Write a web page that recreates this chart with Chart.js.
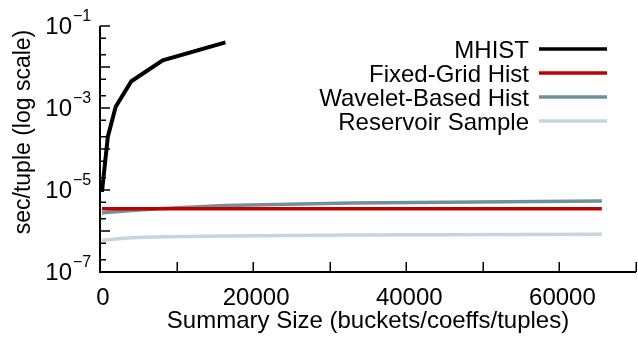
<!DOCTYPE html>
<html><head><meta charset="utf-8">
<script src="https://cdn.jsdelivr.net/npm/chart.js@4"></script>
<style>html,body{margin:0;padding:0;background:#fff}#wrap{width:638px;height:338px}</style>
</head><body><div id="wrap"><canvas id="c" width="638" height="338"></canvas></div>
<script>
// ---- data ----
const seriesNames = ['MHIST', 'Fixed-Grid Hist', 'Wavelet-Based Hist', 'Reservoir Sample'];
const mhistSizes = [256, 1024, 2048, 4096, 8192, 16384];
const mhistSecPerTuple = [9e-6, 2.0e-4, 1.07e-3, 4.5e-3, 1.45e-2, 4.0e-2];
const summarySizes = [256, 1024, 2048, 4096, 8192, 16384, 32768, 65536];
const fixedGridSecPerTuple = [3.5e-6, 3.5e-6, 3.5e-6, 3.5e-6, 3.5e-6, 3.5e-6, 3.5e-6, 3.5e-6];
const waveletSecPerTuple = [2.75e-6, 2.85e-6, 2.95e-6, 3.15e-6, 3.55e-6, 4.2e-6, 4.8e-6, 5.4e-6];
const reservoirSecPerTuple = [5.9e-7, 6.1e-7, 6.4e-7, 6.8e-7, 7.2e-7, 7.6e-7, 8.0e-7, 8.3e-7];
const xTickValues = [0, 10000, 20000, 30000, 40000, 50000, 60000, 70000];
const xTickLabels = ['0', '', '20000', '', '40000', '', '60000', ''];
const yDecadeExponents = [-7, -6, -5, -4, -3, -2, -1];
const yLabelExponents = [-7, -5, -3, -1];
const yMinorMantissas = [2, 5];
const xTitle = 'Summary Size (buckets/coeffs/tuples)';
const yTitle = 'sec/tuple (log scale)';

const FONT = "'Liberation Sans', Arial, Helvetica, sans-serif";
const colors = ['#000000', '#c00000', '#71909a', '#c4d5de'];
const widths = [4, 3.5, 3.5, 3.5];

const toPts = (xs, ys) => xs.map((x, i) => ({x: x, y: ys[i]}));
const seriesData = [
  toPts(mhistSizes, mhistSecPerTuple),
  toPts(summarySizes, fixedGridSecPerTuple),
  toPts(summarySizes, waveletSecPerTuple),
  toPts(summarySizes, reservoirSecPerTuple)
];

const yTickValues = [];
yDecadeExponents.forEach(e => {
  yTickValues.push({value: Number('1e' + e), major: true});
  if (e < -1) yMinorMantissas.forEach(m => yTickValues.push({value: Number(m + 'e' + e), major: false}));
});

const decorations = {
  id: 'decorations',
  beforeDatasetsDraw(chart) {
    const ctx = chart.ctx, a = chart.chartArea;
    const xs = chart.scales.x, ys = chart.scales.y;
    ctx.save();
    ctx.strokeStyle = '#000';
    ctx.lineWidth = 2;
    ctx.beginPath();
    ctx.moveTo(a.left, a.top); ctx.lineTo(a.left, a.bottom); ctx.lineTo(a.right, a.bottom);
    ctx.stroke();
    ctx.lineWidth = 1.5;
    ctx.beginPath();
    xTickValues.forEach(v => {
      const px = Math.round(xs.getPixelForValue(v)) + 0.25;
      ctx.moveTo(px, a.bottom); ctx.lineTo(px, a.bottom - 10);
    });
    yTickValues.forEach(t => {
      const py = ys.getPixelForValue(t.value);
      ctx.moveTo(a.left, py); ctx.lineTo(a.left + (t.major ? 10 : 6), py);
    });
    ctx.stroke();
    ctx.restore();
  },
  afterDraw(chart) {
    const ctx = chart.ctx;
    const ys = chart.scales.y;
    ctx.save();
    ctx.fillStyle = '#000';
    // y tick labels 10^e
    yLabelExponents.forEach(e => {
      const py = ys.getPixelForValue(Number('1e' + e));
      ctx.font = '24px ' + FONT;
      ctx.textAlign = 'right'; ctx.textBaseline = 'alphabetic';
      ctx.fillText('10', 72, py + 8);
      ctx.font = '16px ' + FONT;
      ctx.textAlign = 'left';
      ctx.fillText('\u2212' + Math.abs(e), 73, py - 5);
    });
    // y title
    ctx.save();
    ctx.translate(30, 132);
    ctx.rotate(-Math.PI / 2);
    ctx.font = '23px ' + FONT;
    ctx.textAlign = 'center'; ctx.textBaseline = 'alphabetic';
    ctx.fillText(yTitle, 0, 0);
    ctx.restore();
    // legend
    const rows = [49, 73, 97, 121];
    chart.data.datasets.forEach((ds, i) => {
      const y = rows[i];
      ctx.font = '24px ' + FONT;
      ctx.textAlign = 'right'; ctx.textBaseline = 'alphabetic';
      ctx.fillStyle = '#000';
      ctx.fillText(ds.label, 529, y + 8.5);
      ctx.strokeStyle = ds.borderColor;
      ctx.lineWidth = 3.5;
      ctx.beginPath(); ctx.moveTo(539, y); ctx.lineTo(607, y); ctx.stroke();
    });
    ctx.restore();
  }
};

new Chart(document.getElementById('c'), {
  type: 'line',
  data: {
    datasets: seriesNames.map((name, i) => ({
      label: name,
      data: seriesData[i],
      borderColor: colors[i],
      backgroundColor: colors[i],
      borderWidth: widths[i],
      pointRadius: 0,
      tension: 0,
      fill: false
    }))
  },
  options: {
    responsive: false,
    animation: false,
    devicePixelRatio: 1,
    layout: {autoPadding: false, padding: {top: 26, right: 2, left: 0, bottom: 0}},
    plugins: {legend: {display: false}, tooltip: {enabled: false}},
    scales: {
      x: {
        type: 'linear', min: 0, max: 70000,
        afterBuildTicks: s => { s.ticks = xTickValues.map(v => ({value: v})); },
        afterFit: s => { s.height = 66; s.paddingLeft = 0; s.paddingRight = 0; },
        grid: {display: false}, border: {display: false},
        ticks: {
          autoSkip: false, maxRotation: 0, color: '#000', padding: 4, labelOffset: 3,
          font: {family: FONT, size: 24},
          callback: (v, i) => xTickLabels[i]
        },
        title: {display: true, text: xTitle, color: '#000', font: {family: FONT, size: 24}, padding: {top: 0, bottom: 2}}
      },
      y: {
        type: 'logarithmic', min: 1e-7, max: 1e-1,
        afterBuildTicks: s => { s.ticks = yTickValues.map(t => ({value: t.value})); },
        afterFit: s => { s.width = 100; s.paddingTop = 0; s.paddingBottom = 0; },
        grid: {display: false}, border: {display: false},
        ticks: {display: false}
      }
    }
  },
  plugins: [decorations]
});
</script></body></html>
